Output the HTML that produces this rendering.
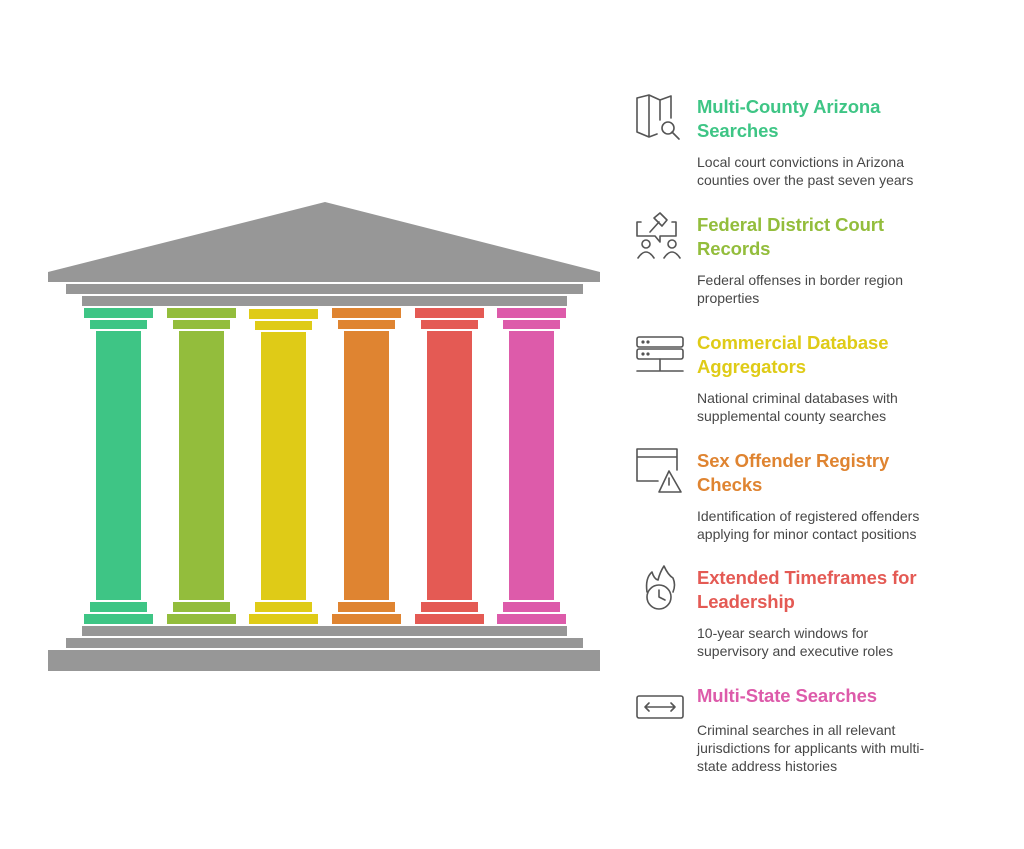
<!DOCTYPE html>
<html><head><meta charset="utf-8"><style>
body{margin:0;width:1024px;height:849px;background:#fff;position:relative;overflow:hidden;font-family:"Liberation Sans",Arial,sans-serif}
.t{position:absolute;left:697px;font-size:18.5px;font-weight:bold;line-height:24px;letter-spacing:-0.1px}
.d{position:absolute;left:697px;font-size:14px;line-height:18px;color:#474747;white-space:nowrap}
svg{position:absolute;left:0;top:0}
</style></head><body>
<svg width="1024" height="849" viewBox="0 0 1024 849">
<g fill="#979797">
<polygon points="48,272 325,202 600,272 600,282 48,282"/>
<rect x="66" y="284" width="517" height="10"/>
<rect x="82" y="296" width="485" height="10"/>
<rect x="82" y="626" width="485" height="10"/>
<rect x="66" y="638" width="517" height="10"/>
<rect x="48" y="650" width="552" height="21"/>
</g>
<g fill="none" stroke="#555" stroke-width="1.6" stroke-linejoin="round" stroke-linecap="round">
<path d="M637 98 L649 95 L660 100 L671 96 L671 118 M637 98 L637 132 L649 137 L657 134 M649 95 L649 137 M660 100 L660 120"/>
<circle cx="668" cy="128" r="6"/><path d="M672 132 L679 139"/>
<path d="M641 222 L637 222 L637 236 L655 236 L660 242 L660 236 L676 236 L676 222 L672 222"/>
<path d="M650 232 L659 222 M654 218 L662 226 L667 220 L660 213 Z"/>
<circle cx="646" cy="244" r="4"/><path d="M638 258 Q646 246 654 258"/>
<circle cx="672" cy="244" r="4"/><path d="M664 258 Q672 246 680 258"/>
<rect x="637" y="337" width="46" height="10" rx="2"/><rect x="637" y="349" width="46" height="10" rx="2"/>
<path d="M660 359 L660 371 M637 371 L683 371"/>
<circle cx="643" cy="342" r="0.8"/><circle cx="648" cy="342" r="0.8"/><circle cx="643" cy="354" r="0.8"/><circle cx="648" cy="354" r="0.8"/>
<path d="M658 481 L637 481 L637 449 L677 449 L677 470 M637 457 L677 457"/>
<path d="M669 471 L659 492 L681 492 Z M669 478 L669 485"/>
<circle cx="659" cy="597" r="12"/><path d="M659 590 L659 597 L665 600"/>
<path d="M647 592 Q645 578 652 572 Q654 579 658 580 Q660 572 664 566 Q668 575 673 578 Q676 585 673 592"/>
<rect x="637" y="696" width="46" height="22" rx="2"/>
<path d="M645 707 L675 707 M649 703 L645 707 L649 711 M671 703 L675 707 L671 711"/>
</g>
<g fill="#3EC585"><rect x="84" y="308" width="69" height="10"/><rect x="90" y="320" width="57" height="9"/><rect x="96" y="331" width="45" height="269"/><rect x="90" y="602" width="57" height="10"/><rect x="84" y="614" width="69" height="10"/></g>
<g fill="#93BD3C"><rect x="167" y="308" width="69" height="10"/><rect x="173" y="320" width="57" height="9"/><rect x="179" y="331" width="45" height="269"/><rect x="173" y="602" width="57" height="10"/><rect x="167" y="614" width="69" height="10"/></g>
<g fill="#DFCB17"><rect x="249" y="309" width="69" height="10"/><rect x="255" y="321" width="57" height="9"/><rect x="261" y="332" width="45" height="268"/><rect x="255" y="602" width="57" height="10"/><rect x="249" y="614" width="69" height="10"/></g>
<g fill="#DF8431"><rect x="332" y="308" width="69" height="10"/><rect x="338" y="320" width="57" height="9"/><rect x="344" y="331" width="45" height="269"/><rect x="338" y="602" width="57" height="10"/><rect x="332" y="614" width="69" height="10"/></g>
<g fill="#E45A54"><rect x="415" y="308" width="69" height="10"/><rect x="421" y="320" width="57" height="9"/><rect x="427" y="331" width="45" height="269"/><rect x="421" y="602" width="57" height="10"/><rect x="415" y="614" width="69" height="10"/></g>
<g fill="#DD5BAA"><rect x="497" y="308" width="69" height="10"/><rect x="503" y="320" width="57" height="9"/><rect x="509" y="331" width="45" height="269"/><rect x="503" y="602" width="57" height="10"/><rect x="497" y="614" width="69" height="10"/></g>
</svg>
<div class="t" style="top:95px;color:#3EC585">Multi-County Arizona<br>Searches</div>
<div class="d" style="top:153px">Local court convictions in Arizona<br>counties over the past seven years</div>
<div class="t" style="top:213px;color:#93BD3C">Federal District Court<br>Records</div>
<div class="d" style="top:271px">Federal offenses in border region<br>properties</div>
<div class="t" style="top:331px;color:#DFCB17">Commercial Database<br>Aggregators</div>
<div class="d" style="top:389px">National criminal databases with<br>supplemental county searches</div>
<div class="t" style="top:449px;color:#DF8431">Sex Offender Registry<br>Checks</div>
<div class="d" style="top:507px">Identification of registered offenders<br>applying for minor contact positions</div>
<div class="t" style="top:566px;color:#E45A54">Extended Timeframes for<br>Leadership</div>
<div class="d" style="top:624px">10-year search windows for<br>supervisory and executive roles</div>
<div class="t" style="top:684px;color:#DD5BAA">Multi-State Searches</div>
<div class="d" style="top:721px">Criminal searches in all relevant<br>jurisdictions for applicants with multi-<br>state address histories</div>
</body></html>
